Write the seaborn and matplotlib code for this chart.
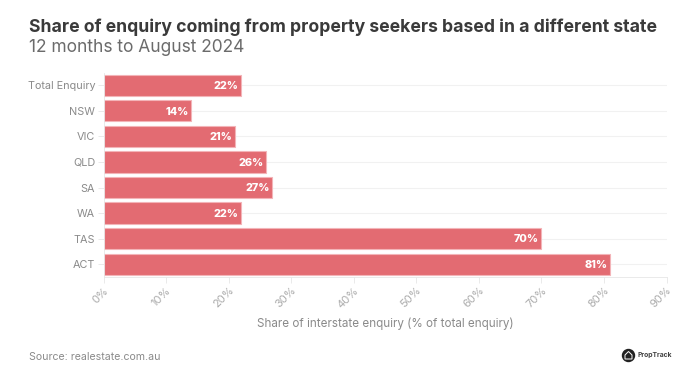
import matplotlib

matplotlib.use("Agg")
import matplotlib.pyplot as plt
from matplotlib.patches import Circle, Polygon
import pandas as pd
import seaborn as sns

categories = ["Total Enquiry", "NSW", "VIC", "QLD", "SA", "WA", "TAS", "ACT"]
shares = [22, 14, 21, 26, 27, 22, 70, 81]
x_ticks = [0, 10, 20, 30, 40, 50, 60, 70, 80, 90]

df = pd.DataFrame({"state": categories, "share": shares})

sns.set_theme(style="white")
plt.rcParams["font.family"] = ["Inter", "DejaVu Sans"]

W, H = 700, 374
fig = plt.figure(figsize=(7, 3.74), dpi=100)
# axes box in pixels of the reference
left, right, top, bottom = 103.5, 666.5, 72.5, 277
ax = fig.add_axes([left / W, 1 - bottom / H, (right - left) / W, (bottom - top) / H])

# light row lines behind the bars
for i in range(len(categories)):
    ax.plot([0, 90], [i, i], color="#f1f1f1", lw=0.8, zorder=0)

sns.barplot(
    data=df,
    y="state",
    x="share",
    color="#e36b72",
    saturation=1,
    width=0.83,
    edgecolor="#f3b4b8",
    linewidth=0.8,
    ax=ax,
    zorder=2,
)

for i, v in enumerate(shares):
    ax.text(
        v - 0.4,
        i + 0.03,
        f"{v}%",
        ha="right",
        va="center",
        color="white",
        fontsize=7.8,
        fontweight="heavy",
        zorder=3,
    )

ax.set_xlim(0, 90)
ax.set_ylim(len(categories) - 0.5, -0.5)
ax.set_xticks(x_ticks)
ax.set_xticklabels(
    [f"{t}%" for t in x_ticks],
    rotation=45,
    ha="right",
    rotation_mode="anchor",
    color="#ababab",
    fontsize=8,
)
ax.tick_params(axis="x", length=4, width=0.6, color="#e6e6e6", pad=2, bottom=True)
ax.tick_params(axis="y", length=4, width=0.6, color="#e6e6e6", pad=2, left=True, labelsize=7.8, labelcolor="#8a8a8a")
ax.set_xlabel("")
ax.set_ylabel("")

sns.despine(ax=ax, top=True, right=True)
for side in ["left", "bottom"]:
    ax.spines[side].set_color("#e6e6e6")
    ax.spines[side].set_linewidth(0.6)

fig.text(29 / W, 1 - 27 / H, "Share of enquiry coming from property seekers based in a different state",
         fontsize=12.7, fontweight="bold", color="#3a3a3a", va="center")
fig.text(29 / W, 1 - 47 / H, "12 months to August 2024", fontsize=12.5, color="#6b6b6b", va="center")
fig.text(385 / W, 1 - 323.5 / H, "Share of interstate enquiry (% of total enquiry)",
         fontsize=8.4, color="#8a8a8a", ha="center", va="center")
fig.text(29 / W, 1 - 357.5 / H, "Source: realestate.com.au", fontsize=7.6, color="#8a8a8a", va="center")

# PropTrack logo, pixel coordinates
fig.text(637 / W, 1 - 355.5 / H, "PropTrack", fontsize=4.9, fontweight="bold", color="#444444", ha="left", va="center")
fig.add_artist(Circle((628.5, H - 355.5), 6, color="#222222", transform=None))
fig.add_artist(Polygon(
    [(625, H - 355), (628.5, H - 351.5), (632, H - 355), (632, H - 359), (625, H - 359)],
    closed=True, fill=False, edgecolor="white", lw=0.7, transform=None,
))

fig.savefig("out.png", dpi=100)
